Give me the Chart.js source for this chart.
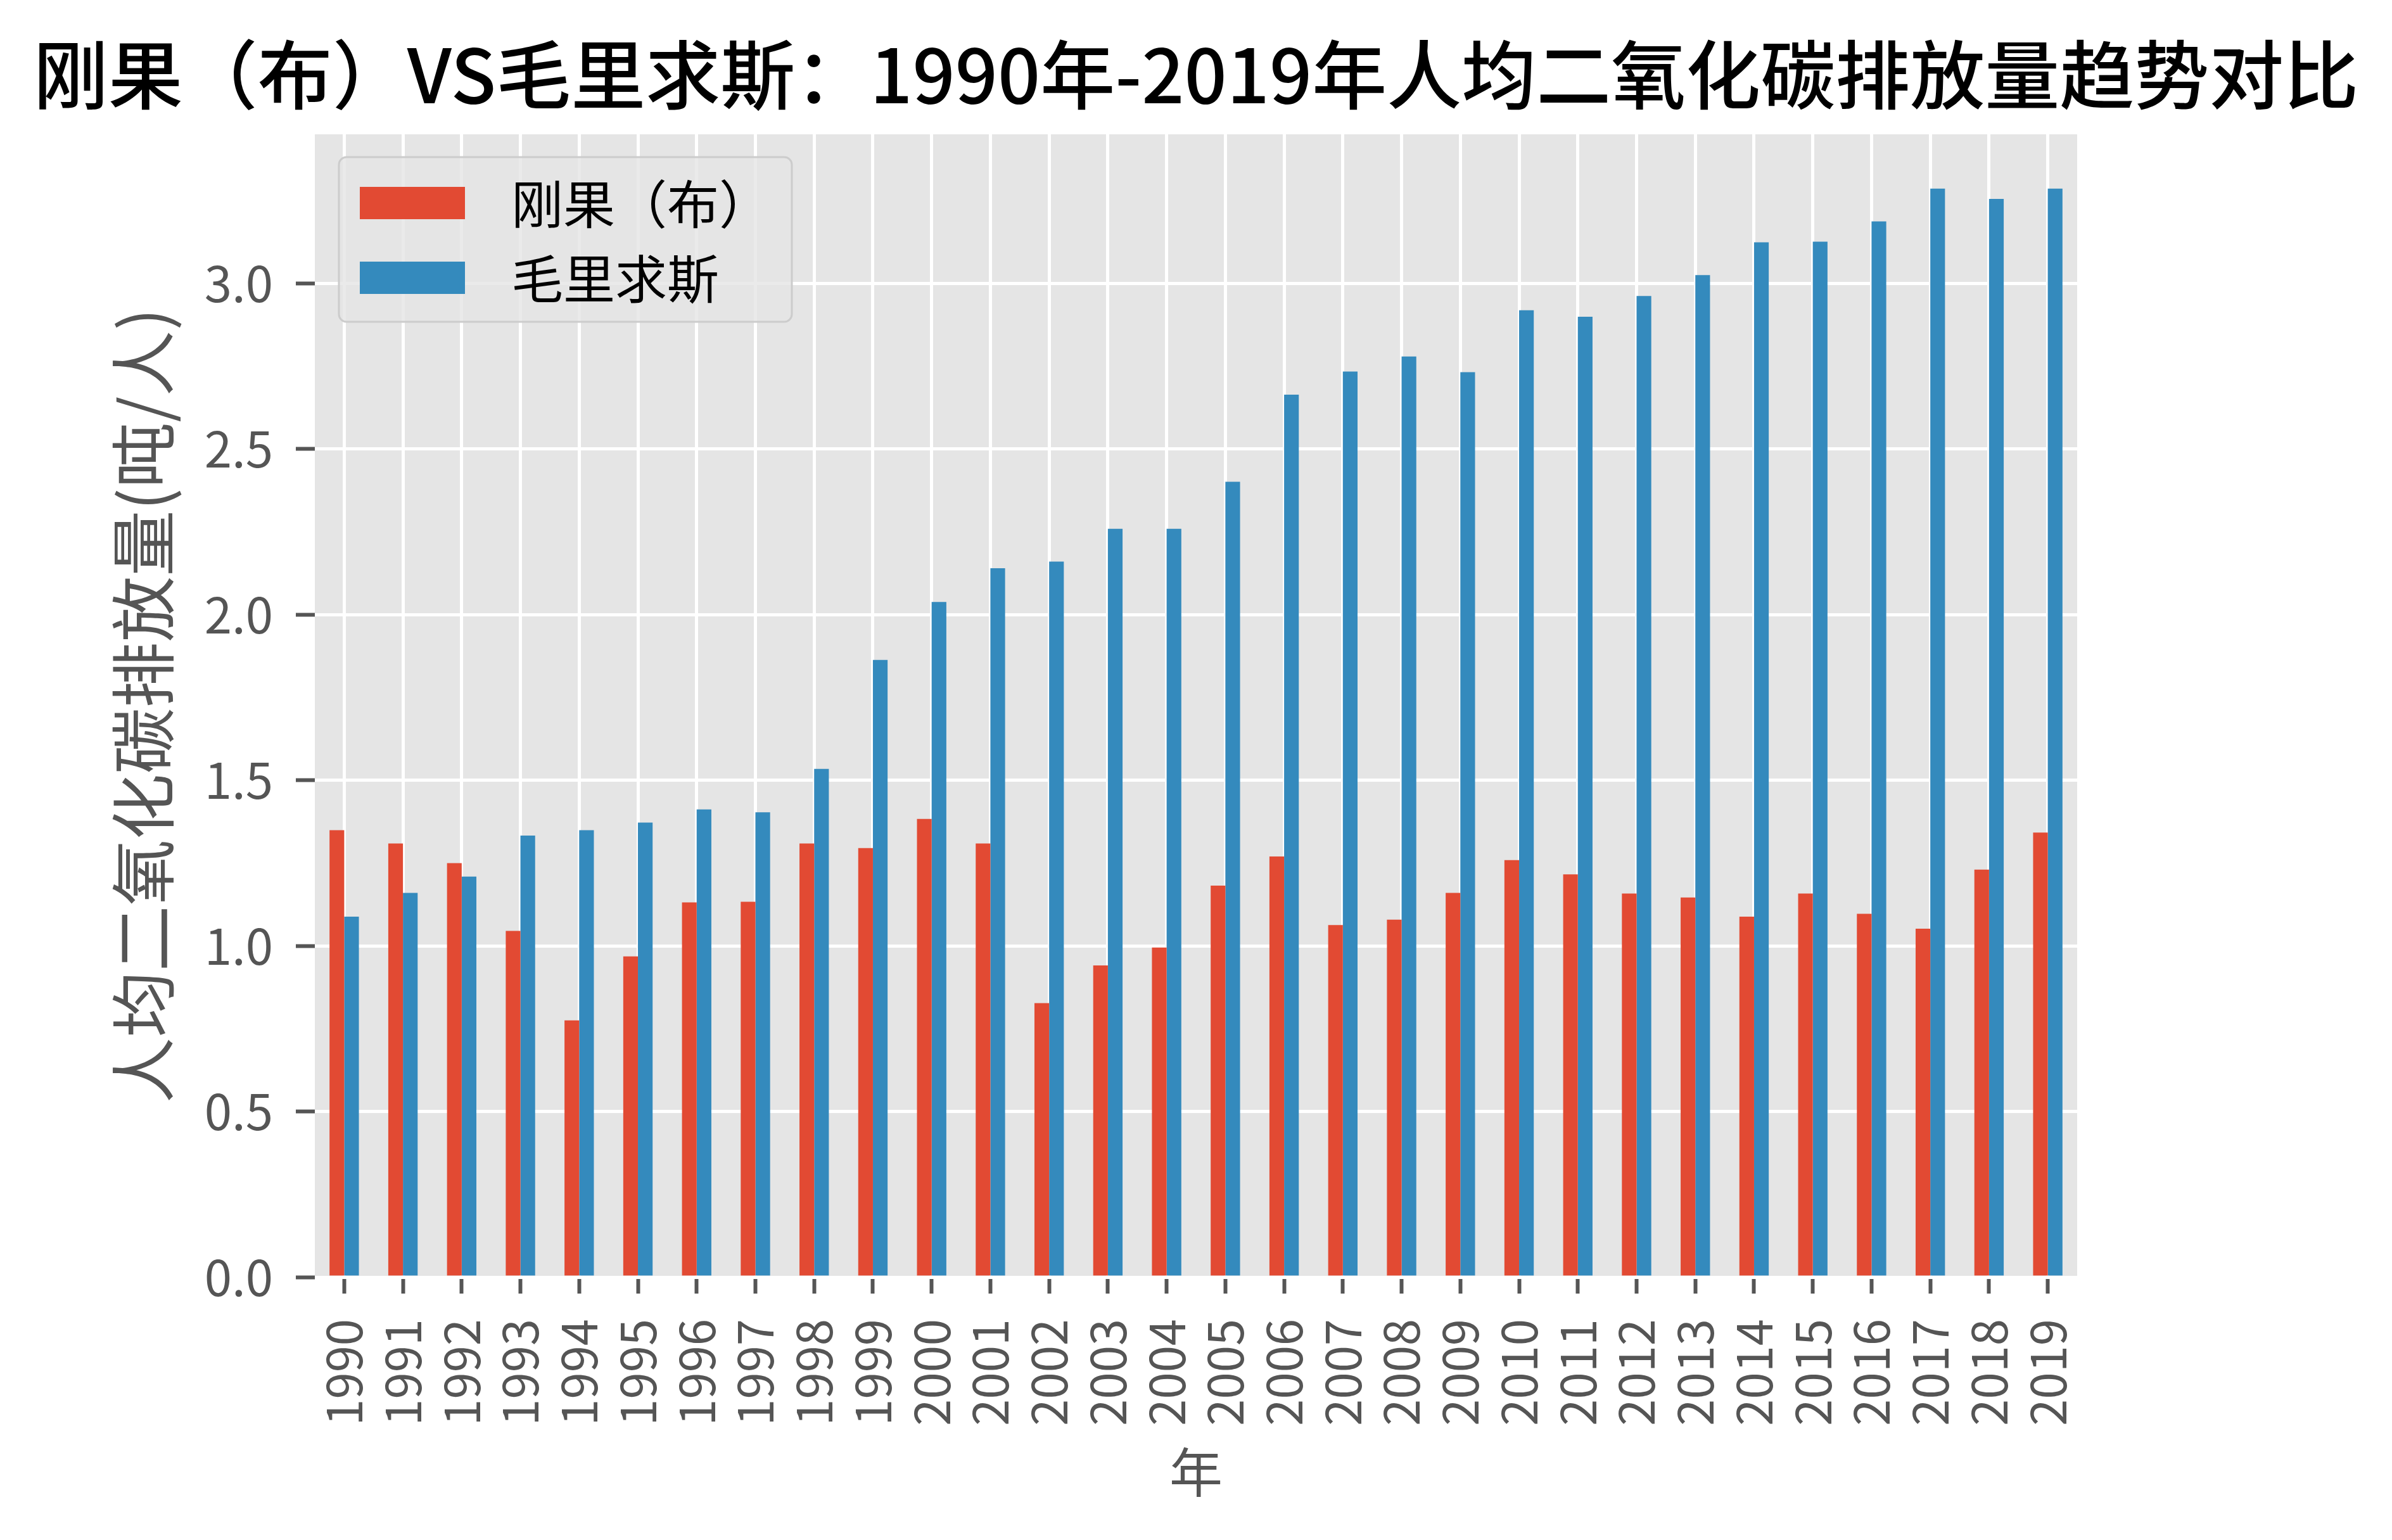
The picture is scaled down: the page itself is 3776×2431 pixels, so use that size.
<!DOCTYPE html>
<html lang="zh">
<head>
  <meta charset="UTF-8">
  <title>刚果（布）VS毛里求斯 人均二氧化碳排放量</title>
  <script src="https://cdn.jsdelivr.net/npm/chart.js"></script>
  <style>
    html, body { margin: 0; padding: 0; background: #fff; }
    canvas { display: block; }
  </style>
</head>
<body>
  <canvas id="grafiku" width="3776" height="2431"></canvas>

  <script>
    // te dhenat
    const years = ['1990','1991','1992','1993','1994','1995','1996','1997','1998','1999',
                   '2000','2001','2002','2003','2004','2005','2006','2007','2008','2009',
                   '2010','2011','2012','2013','2014','2015','2016','2017','2018','2019'];
    const congo = [1.349,1.309,1.250,1.045,0.775,0.968,1.131,1.133,1.309,1.295,
                   1.383,1.309,0.827,0.941,0.995,1.182,1.270,1.063,1.079,1.160,
                   1.259,1.216,1.158,1.146,1.088,1.158,1.097,1.052,1.230,1.342];
    const mauritius = [1.088,1.160,1.209,1.333,1.349,1.372,1.412,1.403,1.534,1.863,
                       2.038,2.140,2.160,2.259,2.259,2.401,2.664,2.734,2.779,2.732,
                       2.919,2.899,2.962,3.025,3.124,3.126,3.187,3.286,3.255,3.286];
    const seriesNames = ['刚果（布）', '毛里求斯'];
    const yTicks = [0, 0.5, 1.0, 1.5, 2.0, 2.5, 3.0];
    const chartTitle = '刚果（布）VS毛里求斯：1990年-2019年人均二氧化碳排放量趋势对比';

    const FONT = '"Noto Sans CJK SC", "Noto Sans", sans-serif';

    // sfondi gri i zones se grafikut
    const bgPlugin = {
      id: 'bg',
      beforeDraw(chart) {
        const a = chart.chartArea, c = chart.ctx;
        c.save();
        c.fillStyle = '#E5E5E5';
        c.fillRect(a.left, a.top, a.right - a.left, a.bottom - a.top);
        c.restore();
      }
    };

    // titulli pa ngjeshje (Chart.js e ngjesh me maxWidth)
    const titlePlugin = {
      id: 'wideTitle',
      afterDraw(chart) {
        const a = chart.chartArea, c = chart.ctx;
        c.save();
        c.font = '500 118px ' + FONT;
        c.fillStyle = '#000';
        c.textAlign = 'center';
        c.textBaseline = 'middle';
        c.fillText(chartTitle, (a.left + a.right) / 2, a.top - 94);
        c.restore();
      }
    };

    // legjenda brenda grafikut, si ne matplotlib
    const legendPlugin = {
      id: 'innerLegend',
      afterDraw(chart) {
        const a = chart.chartArea, c = chart.ctx;
        const x = a.left + 38, y = a.top + 36, w = 715, h = 260;
        c.save();
        c.beginPath();
        c.roundRect(x, y, w, h, 12);
        c.fillStyle = 'rgba(229,229,229,0.8)';
        c.fill();
        c.lineWidth = 3;
        c.strokeStyle = '#cccccc';
        c.stroke();
        c.font = '82px ' + FONT;
        c.textBaseline = 'middle';
        chart.data.datasets.forEach((ds, i) => {
          const cy = y + 72 + i * 118;
          c.fillStyle = ds.backgroundColor;
          c.fillRect(x + 33, cy - 25, 166, 51);
          c.fillStyle = '#000';
          c.fillText(ds.label, x + 272, cy + 2);
        });
        c.restore();
      }
    };

    const ctx = document.getElementById('grafiku').getContext('2d');
    new Chart(ctx, {
      type: 'bar',
      data: {
        labels: years,
        datasets: [
          { label: seriesNames[0], data: congo, backgroundColor: '#E24A33' },
          { label: seriesNames[1], data: mauritius, backgroundColor: '#348ABD' }
        ]
      },
      options: {
        responsive: false,
        animation: false,
        devicePixelRatio: 1,
        categoryPercentage: 0.5,
        barPercentage: 1.0,
        layout: { padding: { left: 164, right: 497, top: 212, bottom: 53 } },
        plugins: {
          legend: { display: false },
          tooltip: { enabled: false },
          title: { display: false }
        },
        scales: {
          x: {
            afterFit(scale) { scale.height = 362; },
            border: { display: false },
            grid: {
              offset: false,
              color: '#ffffff',
              lineWidth: 5,
              drawTicks: true,
              tickLength: 26,
              tickColor: '#555555',
              tickWidth: 6
            },
            ticks: {
              color: '#555555',
              font: { family: FONT, size: 76 },
              minRotation: 90,
              maxRotation: 90,
              autoSkip: false,
              padding: 40
            },
            title: {
              display: true,
              text: '年',
              color: '#555555',
              font: { family: FONT, size: 84 },
              padding: { top: 4, bottom: 4 }
            }
          },
          y: {
            min: 0,
            max: 3.45,
            afterFit(scale) { scale.width = 333; },
            afterBuildTicks(scale) { scale.ticks = yTicks.map(v => ({ value: v })); },
            border: { display: false },
            grid: {
              color: '#ffffff',
              lineWidth: 5,
              drawTicks: true,
              tickLength: 30,
              tickColor: '#555555',
              tickWidth: 6
            },
            ticks: {
              color: '#555555',
              font: { family: FONT, size: 78 },
              padding: 36,
              callback: v => Number(v).toFixed(1)
            },
            title: {
              display: true,
              text: '人均二氧化碳排放量(吨/人)',
              color: '#555555',
              font: { family: FONT, size: 104 },
              padding: { top: 0, bottom: 4 }
            }
          }
        }
      },
      plugins: [bgPlugin, titlePlugin, legendPlugin]
    });
  </script>
</body>
</html>
